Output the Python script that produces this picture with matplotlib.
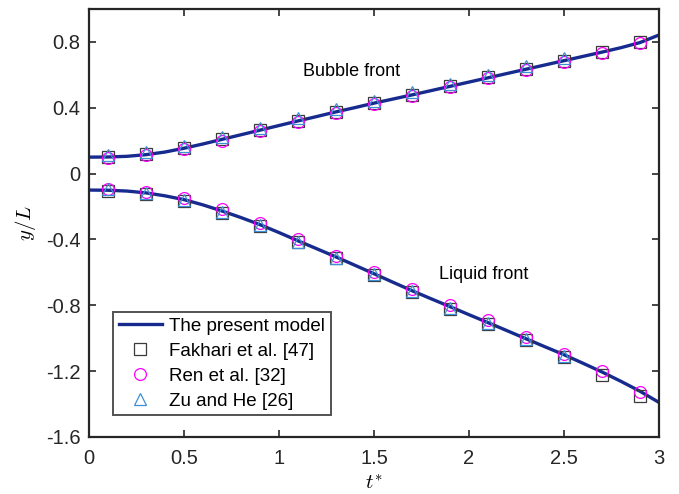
import matplotlib
matplotlib.use("Agg")
import matplotlib.pyplot as plt

# model curves
t_line = [0.0, 0.1, 0.2, 0.3, 0.4, 0.5, 0.6, 0.7, 0.8, 0.9, 1.0, 1.1, 1.2, 1.3, 1.4, 1.5,
          1.6, 1.7, 1.8, 1.9, 2.0, 2.1, 2.2, 2.3, 2.4, 2.5, 2.6, 2.7, 2.8, 2.9, 3.0]
bubble_line = [0.100, 0.101, 0.105, 0.115, 0.131, 0.154, 0.180, 0.208, 0.236, 0.264, 0.292,
               0.320, 0.347, 0.375, 0.401, 0.428, 0.453, 0.478, 0.504, 0.530, 0.556, 0.582,
               0.608, 0.634, 0.660, 0.686, 0.712, 0.738, 0.765, 0.796, 0.842]
liquid_line = [-0.100, -0.101, -0.106, -0.117, -0.135, -0.158, -0.190, -0.227, -0.267, -0.310,
               -0.358, -0.408, -0.457, -0.506, -0.557, -0.608, -0.660, -0.711, -0.760, -0.808,
               -0.857, -0.905, -0.954, -1.003, -1.052, -1.100, -1.152, -1.205, -1.262, -1.322,
               -1.390]

# reference data
t_ref = [0.1, 0.3, 0.5, 0.7, 0.9, 1.1, 1.3, 1.5, 1.7, 1.9, 2.1, 2.3, 2.5, 2.7, 2.9]
fakhari_bubble = [0.100, 0.120, 0.157, 0.208, 0.265, 0.320, 0.375, 0.428, 0.480, 0.530,
                  0.585, 0.636, 0.687, 0.740, 0.798]
fakhari_liquid = [-0.103, -0.122, -0.165, -0.238, -0.318, -0.418, -0.515, -0.618, -0.722,
                  -0.820, -0.912, -1.012, -1.112, -1.222, -1.350]
ren_bubble = [0.092, 0.112, 0.150, 0.200, 0.258, 0.312, 0.368, 0.422, 0.474, 0.524,
              0.580, 0.630, 0.680, 0.734, 0.794]
ren_liquid = [-0.094, -0.112, -0.150, -0.218, -0.300, -0.400, -0.498, -0.600, -0.704,
              -0.800, -0.892, -0.994, -1.094, -1.200, -1.325]
t_zu = [0.1, 0.3, 0.5, 0.7, 0.9, 1.1, 1.3, 1.5, 1.7, 1.9, 2.1, 2.3, 2.5]
zu_bubble = [0.110, 0.130, 0.170, 0.222, 0.280, 0.335, 0.392, 0.443, 0.495, 0.545,
             0.598, 0.652, 0.702]
zu_liquid = [-0.095, -0.115, -0.160, -0.232, -0.312, -0.414, -0.510, -0.612, -0.716,
             -0.814, -0.908, -1.006, -1.106]

plt.rcParams['font.family'] = ['Liberation Sans', 'DejaVu Sans']
plt.rcParams['mathtext.fontset'] = 'cm'

fig = plt.figure(figsize=(6.79, 4.94), dpi=100)
ax = fig.add_axes([0.131, 0.1154, 0.8395, 0.8664])

line_color = '#172b8e'
sq_color = '#3a3a3a'
circ_color = '#ff00ff'
tri_color = '#3d8fd6'

ax.plot(t_line, bubble_line, color=line_color, lw=2.4, label='The present model')
ax.plot(t_line, liquid_line, color=line_color, lw=2.4)

ax.plot(t_ref, fakhari_bubble, 's', ms=9, mfc='none', mec=sq_color, mew=0.9,
        label='Fakhari et al. [47]')
ax.plot(t_ref, fakhari_liquid, 's', ms=9, mfc='none', mec=sq_color, mew=0.9)
ax.plot(t_ref, ren_bubble, 'o', ms=8.5, mfc='none', mec=circ_color, mew=0.9,
        label='Ren et al. [32]')
ax.plot(t_ref, ren_liquid, 'o', ms=8.5, mfc='none', mec=circ_color, mew=0.9)
ax.plot(t_zu, zu_bubble, '^', ms=9, mfc='none', mec=tri_color, mew=0.9,
        label='Zu and He [26]')
ax.plot(t_zu, zu_liquid, '^', ms=9, mfc='none', mec=tri_color, mew=0.9)

ax.text(1.38, 0.62, 'Bubble front', fontsize=13, ha='center', va='center')
ax.text(2.08, -0.615, 'Liquid front', fontsize=13, ha='center', va='center')

ax.set_xlim(0, 3)
ax.set_ylim(-1.6, 1.0)
ax.set_xticks([0, 0.5, 1, 1.5, 2, 2.5, 3])
ax.set_xticklabels(['0', '0.5', '1', '1.5', '2', '2.5', '3'])
ax.set_yticks([-1.6, -1.2, -0.8, -0.4, 0, 0.4, 0.8])
ax.set_yticklabels(['-1.6', '-1.2', '-0.8', '-0.4', '0', '0.4', '0.8'])
ax.tick_params(direction='in', length=5, width=1.2, labelsize=14.5, colors='#262626',
               top=True, right=True)
ax.tick_params(axis='x', pad=9)
ax.tick_params(axis='y', pad=6)
for s in ax.spines.values():
    s.set_linewidth(1.6)
    s.set_color('#262626')

ax.set_xlabel('$t^{*}$', fontsize=15, labelpad=4)
ax.set_ylabel('$y/L$', fontsize=15, labelpad=6)

leg = ax.legend(loc='lower left', bbox_to_anchor=(0.042, 0.051), fontsize=13.5,
                frameon=True, fancybox=False, edgecolor='#262626', borderpad=0.3,
                labelspacing=0.42, handlelength=2.3, handletextpad=0.4,
                borderaxespad=0)
leg.get_frame().set_linewidth(1.4)

fig.savefig('out.png', dpi=100)
